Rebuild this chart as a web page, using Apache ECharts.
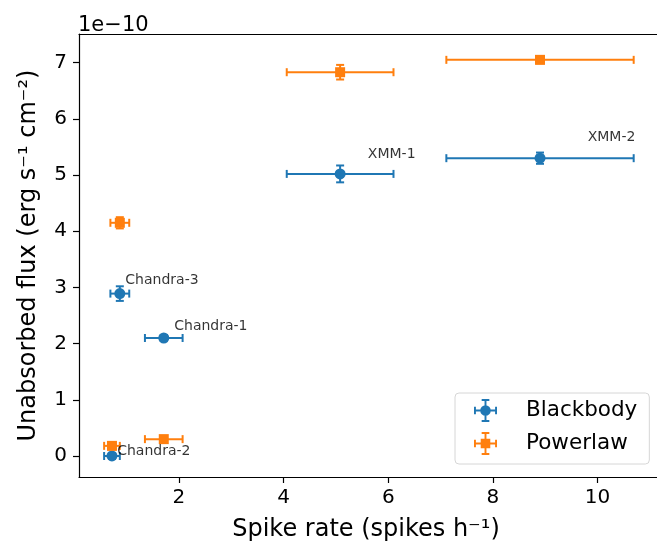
<!DOCTYPE html>
<html>
<head>
<meta charset="utf-8">
<script src="https://cdn.jsdelivr.net/npm/echarts@6/dist/echarts.min.js"></script>
<style>
  html, body { margin: 0; padding: 0; background: #fff; overflow: hidden; }
  /* canvas a bit wider than the window: the right spine falls outside, as in the figure */
  #chart { width: 670px; height: 542px; }
</style>
</head>
<body>
<div id="chart"></div>
<script>
// values, flux in units of 1e-10
const sources = ['Chandra-1', 'Chandra-2', 'Chandra-3', 'XMM-1', 'XMM-2'];
const spikeRate = [1.71, 0.72, 0.87, 5.08, 8.90];
const spikeRateErr = [0.36, 0.15, 0.18, 1.02, 1.79];
const fluxBlackbody = [2.10, 0.00, 2.89, 5.02, 5.30];
const fluxBlackbodyErr = [0.05, 0.05, 0.13, 0.15, 0.10];
const fluxPowerlaw = [0.30, 0.18, 4.15, 6.83, 7.05];
const fluxPowerlawErr = [0.05, 0.06, 0.10, 0.13, 0.06];
// where the source names sit (data coords, left edge of text)
const labelX = [1.91, 0.82, 0.975, 5.61, 9.81];
const labelY = [2.30, 0.09, 3.13, 5.37, 5.67];
const xTicks = [2, 4, 6, 8, 10];
const yTicks = [0, 1, 2, 3, 4, 5, 6, 7];

const BLUE = '#1f77b4';
const ORANGE = '#ff7f0e';
const FONT = 'DejaVu Sans';
const X_MIN = 0.09, X_MAX = 11.212;

// legend handles: error bar cross with the marker in the middle
const bars = 'M0,11 L24,11 L24,13 L0,13 Z M0,8 L2,8 L2,16 L0,16 Z M22,8 L24,8 L24,16 L22,16 Z ' +
  'M11,0 L13,0 L13,24 L11,24 Z M8,0 L16,0 L16,2 L8,2 Z M8,22 L16,22 L16,24 L8,24 Z ';
const circleIcon = 'path://' + bars + 'M6.5,12 A5.5,5.5 0 1 1 17.5,12 A5.5,5.5 0 1 1 6.5,12 Z';
const squareIcon = 'path://' + bars + 'M7,7 L17,7 L17,17 L7,17 Z';

function errorBars(params, api) {
  const x = api.value(0), y = api.value(1);
  const xe = api.value(2), ye = api.value(3);
  const left = api.coord([x - xe, y]);
  const right = api.coord([x + xe, y]);
  const top = api.coord([x, y + ye]);
  const bottom = api.coord([x, y - ye]);
  const cap = 4;
  const style = { stroke: api.visual('color'), lineWidth: 2, fill: null };
  const seg = (x1, y1, x2, y2) => ({ type: 'line', shape: { x1, y1, x2, y2 }, style });
  return {
    type: 'group',
    children: [
      seg(left[0], left[1], right[0], right[1]),
      seg(left[0], left[1] - cap, left[0], left[1] + cap),
      seg(right[0], right[1] - cap, right[0], right[1] + cap),
      seg(top[0], top[1], bottom[0], bottom[1]),
      seg(top[0] - cap, top[1], top[0] + cap, top[1]),
      seg(bottom[0] - cap, bottom[1], bottom[0] + cap, bottom[1]),
    ],
  };
}

const bbErr = sources.map((s, i) => [spikeRate[i], fluxBlackbody[i], spikeRateErr[i], fluxBlackbodyErr[i]]);
const plErr = sources.map((s, i) => [spikeRate[i], fluxPowerlaw[i], spikeRateErr[i], fluxPowerlawErr[i]]);
const bbPts = sources.map((s, i) => [spikeRate[i], fluxBlackbody[i]]);
const plPts = sources.map((s, i) => [spikeRate[i], fluxPowerlaw[i]]);
const labels = sources.map((s, i) => [labelX[i], labelY[i], s]);

const chart = echarts.init(document.getElementById('chart'));

const option = {
  animation: false,
  textStyle: { fontFamily: FONT },
  grid: {
    left: 79,
    right: 9,
    top: 34,
    bottom: 65,
    outerBoundsMode: 'none',
    containLabel: false,
    show: false,
  },
  graphic: [
    {
      type: 'text',
      left: 78,
      top: 15,
      style: { text: '1e\u221210', font: '21px "DejaVu Sans"', fill: '#000' },
    },
    {
      // keep the strip at the window's right edge blank (no right spine in the figure)
      type: 'rect',
      z: 100,
      silent: true,
      shape: { x: 651, y: 35.8, width: 20, height: 440.4 },
      style: { fill: '#fff' },
    },
  ],
  legend: {
    orient: 'vertical',
    left: 455,
    top: 393,
    padding: [6, 12, 9, 19],
    itemWidth: 23,
    itemHeight: 23,
    itemGap: 10,
    borderColor: '#d6d6d6',
    borderWidth: 1,
    borderRadius: 4,
    backgroundColor: 'rgba(255,255,255,0.8)',
    textStyle: {
      fontFamily: FONT,
      fontSize: 21.5,
      color: '#000',
      lineHeight: 23,
      padding: [0, 0, 0, 24],
    },
    data: [
      { name: 'Blackbody', icon: circleIcon },
      { name: 'Powerlaw', icon: squareIcon },
    ],
  },
  xAxis: [
    {
      type: 'value',
      min: X_MIN,
      max: X_MAX,
      name: 'Spike rate (spikes h\u207B\u00B9)',
      nameLocation: 'middle',
      nameGap: 41,
      nameTextStyle: { fontFamily: FONT, fontSize: 24, color: '#000', padding: [0, 8, 0, 0] },
      axisLine: { show: true, onZero: false, lineStyle: { color: '#000', width: 1.2 } },
      axisTick: { show: true, length: 6, customValues: xTicks, lineStyle: { color: '#000', width: 1.2 } },
      axisLabel: { customValues: xTicks, margin: 11, fontFamily: FONT, fontSize: 20, color: '#000' },
      splitLine: { show: false },
    },
    {
      // top spine only
      type: 'value',
      position: 'top',
      min: X_MIN,
      max: X_MAX,
      axisLine: { show: true, onZero: false, lineStyle: { color: '#000', width: 1.2 } },
      axisTick: { show: false },
      axisLabel: { show: false },
      splitLine: { show: false },
    },
  ],
  yAxis: {
    type: 'value',
    min: -0.374,
    max: 7.51,
    name: 'Unabsorbed flux (erg s\u207B\u00B9 cm\u207B\u00B2)',
    nameLocation: 'middle',
    nameGap: 38,
    nameTextStyle: { fontFamily: FONT, fontSize: 24, color: '#000' },
    axisLine: { show: true, onZero: false, lineStyle: { color: '#000', width: 1.2 } },
    axisTick: { show: true, length: 6, customValues: yTicks, lineStyle: { color: '#000', width: 1.2 } },
    axisLabel: { customValues: yTicks, margin: 12, fontFamily: FONT, fontSize: 20, color: '#000' },
    splitLine: { show: false },
  },
  series: [
    {
      name: 'Blackbody err',
      type: 'custom',
      renderItem: errorBars,
      itemStyle: { color: BLUE },
      data: bbErr,
      silent: true,
    },
    {
      name: 'Blackbody',
      type: 'scatter',
      symbol: 'circle',
      symbolSize: 11,
      itemStyle: { color: BLUE, opacity: 1 },
      data: bbPts,
    },
    {
      name: 'Powerlaw err',
      type: 'custom',
      renderItem: errorBars,
      itemStyle: { color: ORANGE },
      data: plErr,
      silent: true,
    },
    {
      name: 'Powerlaw',
      type: 'scatter',
      symbol: 'rect',
      symbolSize: 10,
      itemStyle: { color: ORANGE, opacity: 1 },
      data: plPts,
    },
    {
      name: 'names',
      type: 'scatter',
      symbolSize: 0,
      silent: true,
      z: 5,
      label: {
        show: true,
        position: 'right',
        distance: 0,
        formatter: (p) => p.data[2],
        fontFamily: FONT,
        fontSize: 14,
        color: '#000',
      },
      data: labels,
    },
  ],
};

chart.setOption(option);
</script>
</body>
</html>
